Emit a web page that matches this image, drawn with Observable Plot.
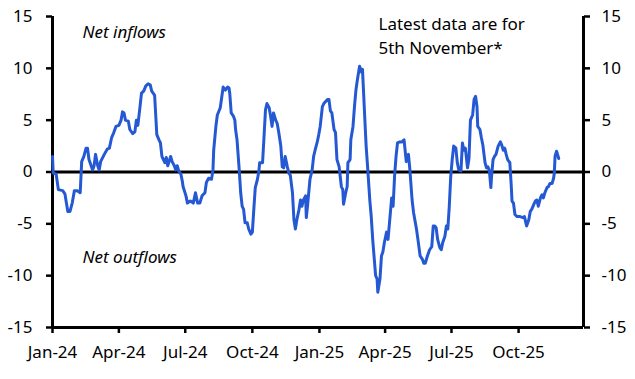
<!DOCTYPE html>
<html><head><meta charset="utf-8">
<script src="https://cdn.jsdelivr.net/npm/d3@7"></script>
<script src="https://cdn.jsdelivr.net/npm/@observablehq/plot@0.6"></script>
<style>body{margin:0;background:#fff}</style>
</head><body><div id="chart"></div>
<script>
const startDate = "2024-01-01";
const endDate = "2025-12-29";
// days since 1 Jan 2024
const dayOffsets = [
  0,1,5,8,14,17,21,24,27,30,
  34,38,40,43,46,48,50,55,57,59,
  62,64,66,71,75,78,81,84,87,91,
  94,96,98,100,104,106,110,113,115,117,
  120,122,125,128,131,134,136,138,140,143,
  146,148,150,152,154,156,158,162,164,167,
  169,171,173,176,178,179,183,185,189,193,
  196,199,202,205,209,211,214,218,220,221,
  224,226,230,231,234,237,240,242,243,245,
  248,250,251,253,256,258,260,262,264,267,
  269,272,274,276,278,281,283,284,288,290,
  292,294,297,299,301,303,306,308,310,313,
  315,317,319,322,324,326,329,331,333,335,
  338,340,342,344,347,348,350,353,356,358,
  360,363,365,367,370,372,377,379,381,383,
  386,388,390,393,396,398,399,402,404,405,
  408,409,412,414,416,418,421,424,425,428,
  430,432,435,437,439,440,443,445,446,449,
  451,453,455,458,460,462,465,467,469,471,
  473,476,479,482,485,488,490,493,495,499,
  501,504,507,509,511,514,517,520,522,524,
  526,528,531,533,535,538,540,542,544,546,
  548,550,553,555,557,560,562,564,566,569,
  571,573,576,578,580,582,583,586,588,590,
  593,595,597,599,601,602,604,606,608,611,
  614,616,618,620,622,624,627,629,630,632,
  634,637,641,645,647,650,653,655,657,660,
  662,664,666,669,671,673,675,678,680,682,
  685,687,688,689,691,692,694
];
const netFlows = [
  1.5,-0.1,-0.2,-1.7,-1.8,-2.1,-3.8,-3.8,-3.0,-1.8,
  -1.8,-2.0,1.0,1.5,2.3,2.3,1.2,0.2,0.6,1.7,
  0.6,0.2,1.0,1.7,2.2,2.3,3.3,3.8,4.4,4.5,
  5.0,5.8,5.7,5.0,4.9,4.1,3.7,3.9,5.0,4.5,
  6.3,7.6,7.8,8.3,8.5,8.4,7.8,7.6,7.4,3.6,
  3.1,2.8,1.5,1.2,0.9,1.4,0.6,1.5,1.0,0.6,
  0.2,0.6,0.1,-0.2,-0.9,-1.4,-2.3,-3.0,-2.8,-3.0,
  -2.0,-3.0,-3.0,-2.3,-2.0,-1.0,-0.6,-0.7,0.2,2.1,
  4.4,5.5,6.2,6.7,8.2,7.9,8.2,8.1,7.6,5.7,
  5.4,5.0,4.1,3.1,0.2,-2.0,-3.3,-3.6,-4.9,-4.9,
  -5.5,-6.0,-5.8,-3.6,-1.5,-0.7,0.1,0.9,0.9,3.4,
  6.0,6.6,6.2,5.4,4.4,5.7,5.0,4.7,3.9,2.5,
  0.5,0.4,1.5,0.5,-0.1,-0.3,-2.0,-4.6,-5.5,-4.6,
  -3.6,-2.7,-3.3,-2.7,-2.3,-4.4,-3.0,-0.7,0.2,1.5,
  2.1,2.9,3.6,4.4,6.3,6.6,7.0,7.0,5.9,5.7,
  4.1,3.8,1.2,0.5,-1.4,-1.7,-3.1,-2.0,-1.4,0.9,
  1.2,3.1,4.4,6.3,7.9,8.9,10.2,9.6,9.9,5.4,
  2.5,0.5,-2.7,-4.3,-6.5,-7.4,-10.0,-10.3,-11.6,-10.3,
  -8.1,-7.7,-6.8,-5.8,-6.5,-4.9,-2.5,-3.3,-0.4,1.5,
  2.8,2.9,2.9,3.1,1.0,1.7,0.2,-2.7,-3.9,-5.5,
  -6.5,-8.1,-8.4,-8.8,-8.8,-8.1,-7.5,-7.2,-5.2,-5.2,
  -5.4,-6.5,-7.3,-7.5,-6.8,-6.2,-5.2,-5.5,-3.3,-0.4,
  1.2,2.5,2.3,0.9,0.2,0.1,2.8,2.1,2.3,0.4,
  1.3,5.0,5.5,7.0,7.3,6.3,4.4,4.1,3.3,2.6,
  0.9,0.4,0.5,0.1,-1.5,-0.4,1.2,1.5,1.7,2.5,
  2.9,2.6,2.1,2.3,1.7,1.2,0.9,-1.4,-2.8,-3.0,
  -4.1,-4.3,-4.3,-4.4,-4.3,-5.2,-4.6,-3.8,-3.6,-3.1,
  -2.8,-2.7,-3.3,-2.5,-2.2,-2.5,-2.0,-1.5,-1.4,-1.1,
  -1.1,-0.6,-0.1,1.5,2.0,1.8,1.3
];
const yTicks = [-15, -10, -5, 0, 5, 10, 15];
const xTickDates = ["2024-01-01","2024-04-01","2024-07-01","2024-10-01","2025-01-01","2025-04-01","2025-07-01","2025-10-01"];
const labelInflows = "Net inflows";
const labelOutflows = "Net outflows";
const noteLines = ["Latest data are for", "5th November*"];

const t0 = new Date(startDate);
const t1 = new Date(endDate);
const data = dayOffsets.map((d, i) => ({date: d3.utcDay.offset(t0, d), value: netFlows[i]}));
const fmt = d3.utcFormat("%b-%y");
const yFmt = d => String(d);

const chart = Plot.plot({
  width: 635, height: 379,
  marginTop: 16, marginBottom: 52, marginLeft: 52, marginRight: 52,
  style: {fontFamily: "'Noto Sans', sans-serif", fontSize: "17px", color: "#000", background: "#fff", overflow: "visible"},
  x: {type: "utc", domain: [t0, t1]},
  y: {domain: [yTicks[0], yTicks[yTicks.length - 1]]},
  marks: [
    Plot.axisX({ticks: xTickDates.map(d => new Date(d)), tickFormat: fmt, tickSize: 6, tickPadding: 12, strokeWidth: 2.5, label: null, fill: "#000"}),
    Plot.axisY({anchor: "left", ticks: yTicks, tickFormat: yFmt, tickSize: 6, tickPadding: 14, strokeWidth: 2.5, label: null, fill: "#000"}),
    Plot.axisY({anchor: "right", ticks: yTicks, tickFormat: yFmt, tickSize: 6, tickPadding: 12, strokeWidth: 2.5, label: null, fill: "#000"}),
    Plot.ruleY([0], {stroke: "#000", strokeWidth: 3}),
    Plot.ruleY([yTicks[0]], {stroke: "#000", strokeWidth: 3}),
    Plot.ruleX([t0, t1], {stroke: "#000", strokeWidth: 3}),
    Plot.line(data, {x: "date", y: "value", stroke: "#2459d3", strokeWidth: 3, strokeLinejoin: "round"}),
    Plot.text([labelInflows], {frameAnchor: "top-left", dx: 30, dy: 16, lineAnchor: "middle", fontStyle: "italic", fill: "#000"}),
    Plot.text([labelOutflows], {frameAnchor: "bottom-left", dx: 30, dy: -70, lineAnchor: "middle", fontStyle: "italic", fill: "#000"}),
    Plot.text([noteLines.join("\n")], {frameAnchor: "top-left", dx: 326, dy: 17.5, lineAnchor: "middle", lineHeight: 1.47, fill: "#000"})
  ]
});
document.getElementById("chart").appendChild(chart);
</script>
</body></html>
